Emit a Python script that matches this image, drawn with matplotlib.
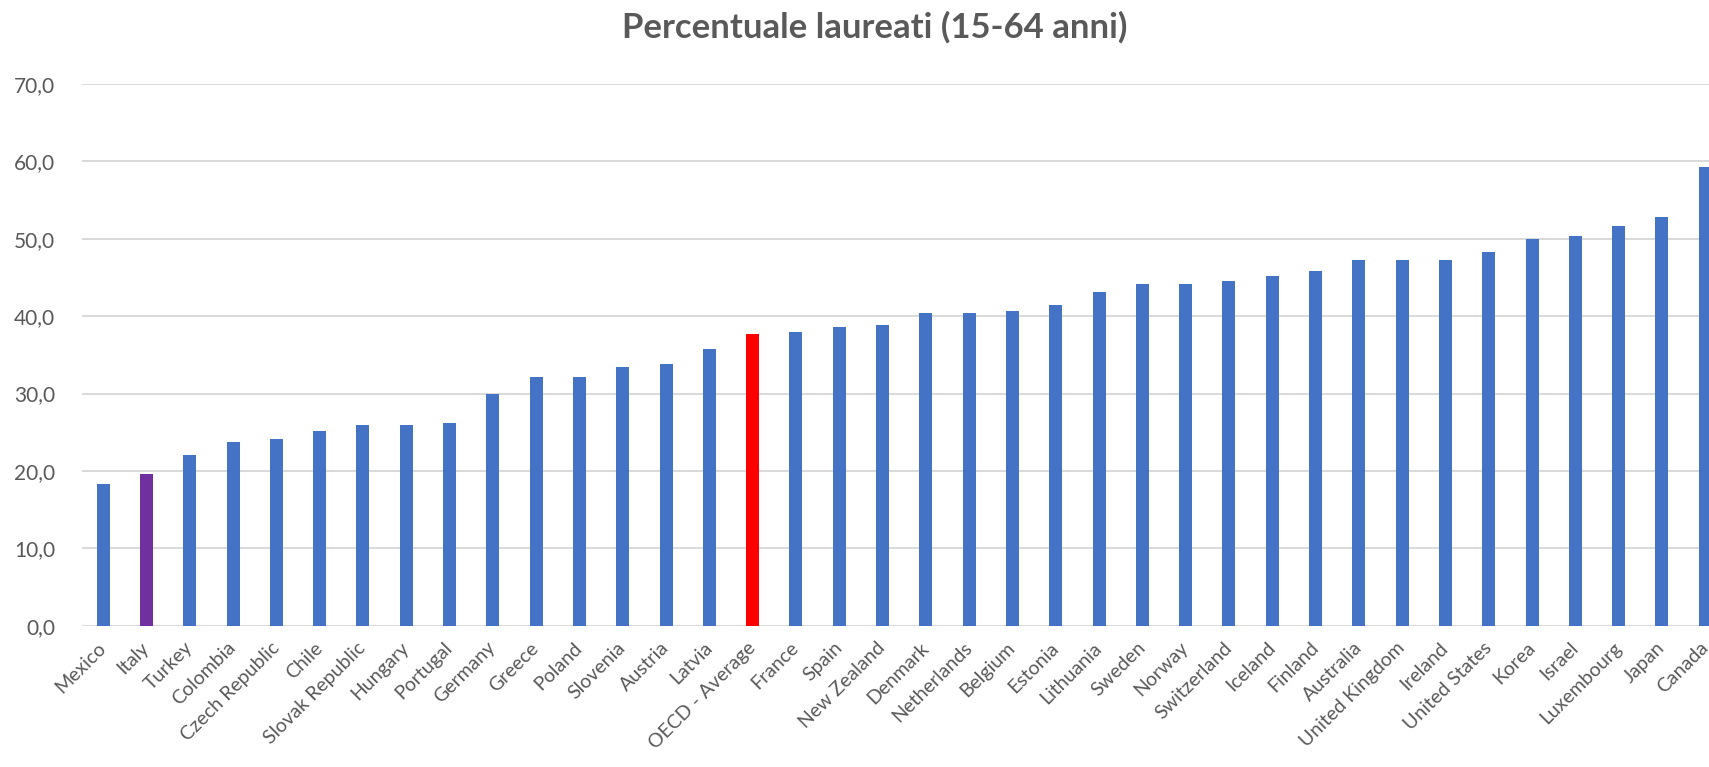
import matplotlib
matplotlib.use("Agg")
import matplotlib.pyplot as plt
from matplotlib.ticker import FuncFormatter

countries = ["Mexico", "Italy", "Turkey", "Colombia", "Czech Republic", "Chile",
             "Slovak Republic", "Hungary", "Portugal", "Germany", "Greece", "Poland",
             "Slovenia", "Austria", "Latvia", "OECD - Average", "France", "Spain",
             "New Zealand", "Denmark", "Netherlands", "Belgium", "Estonia", "Lithuania",
             "Sweden", "Norway", "Switzerland", "Iceland", "Finland", "Australia",
             "United Kingdom", "Ireland", "United States", "Korea", "Israel",
             "Luxembourg", "Japan", "Canada"]
values = [18.3, 19.6, 22.0, 23.8, 24.1, 25.2,
          25.9, 25.9, 26.2, 30.0, 32.1, 32.1,
          33.4, 33.8, 35.8, 37.7, 37.9, 38.6,
          38.9, 40.4, 40.4, 40.7, 41.4, 43.1,
          44.1, 44.1, 44.5, 45.2, 45.8, 47.2,
          47.2, 47.2, 48.3, 50.0, 50.3,
          51.7, 52.8, 59.3]
highlight = {"Italy": "#7030A0", "OECD - Average": "#FF0000"}
base_color = "#4472C4"
yticks = [0, 10, 20, 30, 40, 50, 60, 70]
title = "Percentuale laureati (15-64 anni)"

plt.rcParams['font.family'] = ['Lato', 'DejaVu Sans']
text_color = "#595959"

fig = plt.figure(figsize=(17.09, 7.67), dpi=100)
W, H = 1709, 767
left_px, right_px = 81.5, 81.5 + 38 * 43.3
bottom_px, top_px = 625.7, 84.0
ax = fig.add_axes([left_px / W, (H - bottom_px) / H,
                   (right_px - left_px) / W, (bottom_px - top_px) / H])

colors = [highlight.get(c, base_color) for c in countries]
x = list(range(len(countries)))
ax.bar(x, values, width=0.30, color=colors, zorder=3)

ax.set_xlim(-0.5, len(countries) - 0.5)
ax.set_ylim(0, 70)
ax.set_yticks(yticks)
ax.yaxis.set_major_formatter(FuncFormatter(lambda v, p: f"{v:.1f}".replace('.', ',')))
ax.grid(axis='y', color='#D9D9D9', linewidth=1.4, zorder=0)
for s in ax.spines.values():
    s.set_visible(False)
ax.tick_params(axis='both', length=0, colors=text_color)
ax.tick_params(axis='y', pad=19, labelsize=15)
ax.set_xticks(x)
ax.set_xticklabels(countries, rotation=45, ha='right', va='center',
                   rotation_mode='anchor', color=text_color, fontsize=14)
ax.tick_params(axis='x', pad=14)

fig.text(0.512, 1 - 27 / H, title, ha='center', va='center',
         fontsize=25, fontweight='bold', color=text_color)

fig.savefig("out.png", dpi=100, facecolor='white')
